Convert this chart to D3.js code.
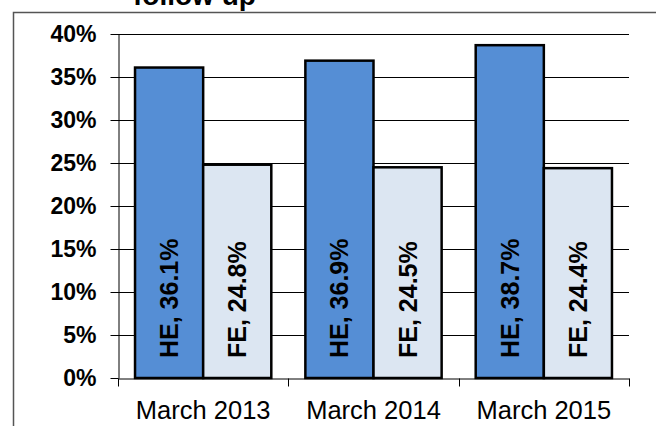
<!DOCTYPE html>
<html>
<head>
<meta charset="utf-8">
<script src="https://cdn.jsdelivr.net/npm/d3@7"></script>
<style>
  body { margin:0; background:#fff; }
  svg { display:block; font-family: Arial, "Liberation Sans", sans-serif; }
</style>
</head>
<body>
<svg id="chart" width="656" height="426"></svg>
<script>
// datos
var categorias = ["March 2013", "March 2014", "March 2015"];
var series = ["HE", "FE"];
var valoresHE = [36.1, 36.9, 38.7];
var valoresFE = [24.8, 24.5, 24.4];
var ticksY = [0, 5, 10, 15, 20, 25, 30, 35, 40];
var colores = { "HE": "#558ED5", "FE": "#DCE6F2" };

var data = categorias.map(function(c, i){
  return { cat: c, vals: [ {s:"HE", v:valoresHE[i]}, {s:"FE", v:valoresFE[i]} ] };
});

var svg = d3.select("#chart");

/* marco exterior (solo izquierda y arriba visibles) */
svg.append("path")
  .attr("d", "M13.5,426 L13.5,12.5 L656,12.5")
  .attr("fill", "none")
  .attr("stroke", "#555")
  .attr("stroke-width", 1.5);

/* titulo cortado */
svg.append("text")
  .attr("x", 133).attr("y", 5)
  .attr("font-size", "28px").attr("font-weight", "bold")
  .text("follow up");

var x = d3.scaleBand().domain(categorias).range([118, 629]).paddingInner(0).paddingOuter(0);
var x1 = d3.scaleBand().domain(series).range([0, x.bandwidth()]).paddingInner(0).paddingOuter(0.25);
var y = d3.scaleLinear().domain([0, 40]).range([378, 34]);

/* lineas de la cuadricula */
svg.append("g").selectAll("line")
  .data(ticksY.filter(function(d){ return d > 0; }))
  .enter().append("line")
    .attr("x1", 118).attr("x2", 629)
    .attr("y1", function(d){ return Math.round(y(d)) + 0.5; })
    .attr("y2", function(d){ return Math.round(y(d)) + 0.5; })
    .attr("stroke", "#000").attr("stroke-width", 1);

/* barras */
var grupos = svg.append("g").selectAll("g")
  .data(data).enter().append("g")
    .attr("transform", function(d){ return "translate(" + x(d.cat) + ",0)"; });

grupos.selectAll("rect")
  .data(function(d){ return d.vals; })
  .enter().append("rect")
    .attr("x", function(d){ return x1(d.s); })
    .attr("y", function(d){ return y(d.v); })
    .attr("width", x1.bandwidth())
    .attr("height", function(d){ return y(0) - y(d.v); })
    .attr("fill", function(d){ return colores[d.s]; })
    .attr("stroke", "#000")
    .attr("stroke-width", 2.5);

grupos.selectAll("text")
  .data(function(d){ return d.vals; })
  .enter().append("text")
    .attr("transform", function(d){
      return "translate(" + (x1(d.s) + x1.bandwidth()/2) + "," + (y(0) - 20) + ") rotate(-90)";
    })
    .attr("dy", "0.36em")
    .attr("font-size", "25px").attr("font-weight", "bold")
    .attr("fill", "#000")
    .text(function(d){ return d.s + ", " + d.v.toFixed(1) + "%"; });

/* eje Y */
var yAx = d3.axisLeft(y).tickValues(ticksY).tickSize(8).tickSizeOuter(0).tickPadding(14)
  .tickFormat(function(d){ return d + "%"; });
var gy = svg.append("g").attr("transform", "translate(118.5,0)").call(yAx);
gy.selectAll("text").attr("font-size", "23px").attr("font-weight", "bold")
  .attr("font-family", "Arial, 'Liberation Sans', sans-serif").attr("fill", "#000");
gy.selectAll("line").attr("stroke", "#000");
gy.select(".domain").attr("stroke", "#000");

/* eje X */
var xAx = d3.axisBottom(x).tickSize(0).tickSizeOuter(0).tickPadding(22);
var gx = svg.append("g").attr("transform", "translate(0,378.5)").call(xAx);
gx.selectAll("text").attr("font-size", "25.5px")
  .attr("font-family", "Arial, 'Liberation Sans', sans-serif").attr("fill", "#000");
gx.select(".domain").attr("stroke", "#000");
var bordes = categorias.map(function(c){ return x(c); }).concat([x.range()[1]]);
gx.selectAll(".sep").data(bordes).enter().append("line")
  .attr("class", "sep")
  .attr("x1", function(d){ return Math.round(d) + 0.5; })
  .attr("x2", function(d){ return Math.round(d) + 0.5; })
  .attr("y1", 0).attr("y2", 8)
  .attr("stroke", "#000");
</script>
</body>
</html>
